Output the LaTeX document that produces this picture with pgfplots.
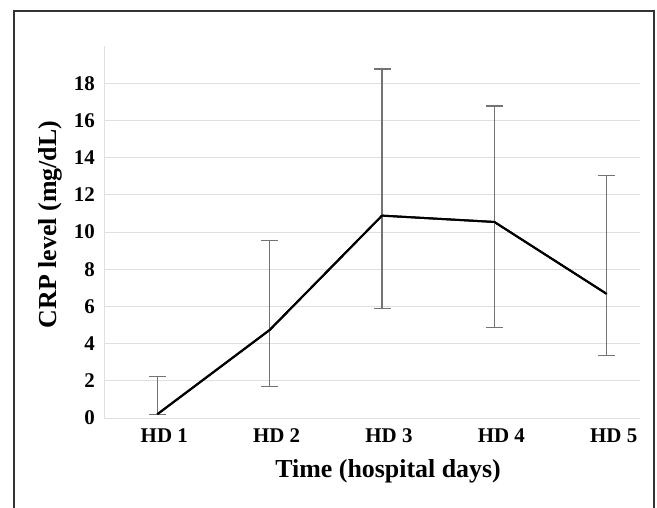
\documentclass[border=0pt]{standalone}
\usepackage{fontspec}
\setmainfont{Liberation Serif}
\usepackage{pgfplots}
\pgfplotsset{compat=1.18}

\begin{document}
\begin{tikzpicture}
\useasboundingbox (0bp,0bp) rectangle (657bp,508bp);
% outer frame (bottom edge falls outside the picture)
\draw[black!80, line width=1.5bp] (14bp,-20bp) -- (14bp,497bp) -- (654bp,497bp) -- (654bp,-20bp);

\begin{axis}[
  at={(104bp,90bp)}, anchor=south west,
  scale only axis,
  width=536bp, height=372bp,
  xmin=0.526, xmax=5.296,
  ymin=0, ymax=20,
  axis lines=left,
  axis line style={-, gray!25, line width=0.8bp},
  major tick length=0pt,
  xtick={1,2,3,4,5},
  xticklabels={HD 1,HD 2,HD 3,HD 4,HD 5},
  ytick={0,2,...,18},
  ymajorgrids,
  grid style={gray!25, line width=0.8bp},
  tick label style={font=\fontsize{21}{25}\selectfont\bfseries},
  /pgf/number format/assume math mode=true,
  xticklabel style={anchor=base, yshift=-24bp, xshift=7bp},
  yticklabel style={anchor=east, inner xsep=0pt, xshift=-9bp},
  xlabel={Time (hospital days)},
  ylabel={CRP level (mg/dL)},
  label style={font=\fontsize{26}{30}\selectfont\bfseries},
  xlabel style={at={(axis description cs:0.53,0)}, anchor=center, yshift=-53bp},
  ylabel style={at={(axis description cs:-0.1007,0.52)}, anchor=center},
  clip=false,
]

% mean with asymmetric error bars
\addplot[black, line width=2bp, mark=none,
  error bars/.cd, y dir=both, y explicit,
  error bar style={gray!90!black, line width=1.3bp},
  error mark options={gray!90!black, mark size=8.5bp, line width=1.3bp, rotate=90}]
  coordinates {
    (1,0.20)  += (0,2.02) -= (0,0.00)
    (2,4.73)  += (0,4.80) -= (0,3.05)
    (3,10.88) += (0,7.88) -= (0,4.98)
    (4,10.54) += (0,6.23) -= (0,5.66)
    (5,6.67)  += (0,6.36) -= (0,3.30)
  };

% line again on top of the error bars
\addplot[black, line width=2bp, mark=none]
  coordinates {(1,0.20) (2,4.73) (3,10.88) (4,10.54) (5,6.67)};

\end{axis}
\end{tikzpicture}
\end{document}
